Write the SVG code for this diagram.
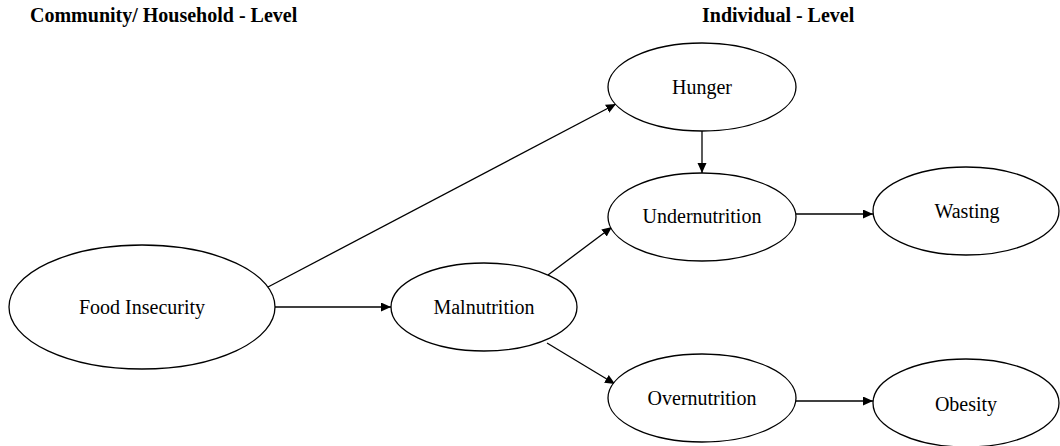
<svg xmlns="http://www.w3.org/2000/svg" width="1060" height="446" viewBox="0 0 1060 446">
<style>
.node ellipse{fill:#fff;stroke:#000;stroke-width:1.3}
.node text{font-family:"Liberation Serif","Times New Roman",serif;font-size:20px;fill:#000;text-anchor:middle}
.hdr{font-family:"Liberation Serif","Times New Roman",serif;font-size:20px;font-weight:bold;fill:#000}
#connectors line{stroke:#000;stroke-width:1.3;marker-end:url(#arr)}
</style>
<defs>
<marker id="arr" markerUnits="userSpaceOnUse" markerWidth="12" markerHeight="10" refX="10" refY="4.5" orient="auto">
<path d="M0,0 L10,4.5 L0,9 Z" fill="#000"/>
</marker>
</defs>
<rect width="1060" height="446" fill="#fff"/>
<text class="hdr" x="30" y="22">Community/ Household - Level</text>
<text class="hdr" x="702" y="22">Individual - Level</text>
<g id="connectors">
<line x1="275" y1="307" x2="391" y2="307"/>
<line x1="268" y1="287" x2="616" y2="104"/>
<line x1="702" y1="131" x2="702" y2="173"/>
<line x1="548" y1="275" x2="612" y2="227"/>
<line x1="547" y1="343" x2="615" y2="384"/>
<line x1="796" y1="214" x2="873" y2="214"/>
<line x1="796" y1="401" x2="873" y2="401"/>
</g>
<g id="food-insecurity" class="node"><ellipse cx="142" cy="307" rx="133" ry="62"/><text x="142" y="314">Food Insecurity</text></g>
<g id="malnutrition" class="node"><ellipse cx="484" cy="307" rx="93" ry="44"/><text x="484" y="314">Malnutrition</text></g>
<g id="hunger" class="node"><ellipse cx="702" cy="87" rx="94" ry="44"/><text x="702" y="94">Hunger</text></g>
<g id="undernutrition" class="node"><ellipse cx="702" cy="217" rx="94" ry="44"/><text x="702" y="223">Undernutrition</text></g>
<g id="wasting" class="node"><ellipse cx="966" cy="211" rx="93" ry="44"/><text x="967" y="218">Wasting</text></g>
<g id="overnutrition" class="node"><ellipse cx="702" cy="398" rx="94" ry="44"/><text x="702" y="405">Overnutrition</text></g>
<g id="obesity" class="node"><ellipse cx="966" cy="403" rx="93" ry="44"/><text x="966" y="411">Obesity</text></g>
</svg>
